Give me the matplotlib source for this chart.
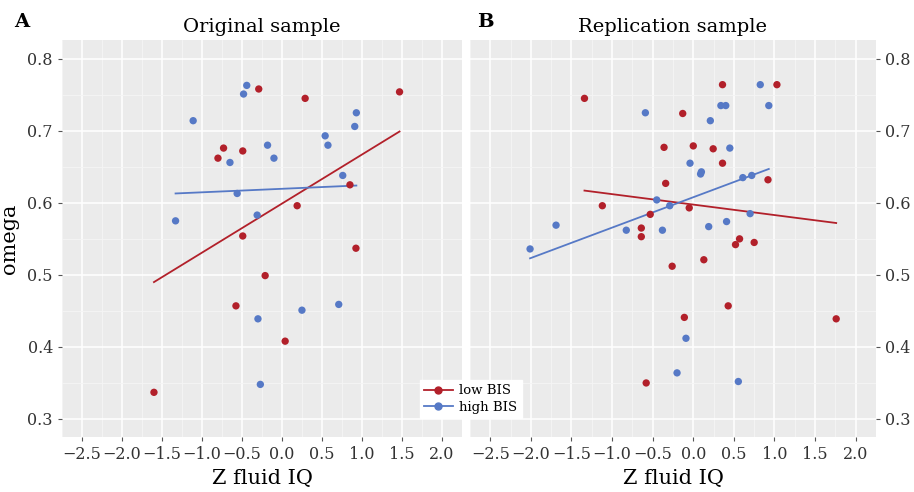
import numpy as np
import matplotlib.pyplot as plt

# Original sample
orig_low_x = [-0.29, 0.29, 1.47, -0.73, -0.80, -0.49, 0.85, 0.19, -0.49, 0.925, -0.21, -0.575, 0.04, -1.60]
orig_low_y = [0.758, 0.745, 0.754, 0.676, 0.662, 0.672, 0.625, 0.596, 0.554, 0.537, 0.499, 0.457, 0.408, 0.337]
orig_high_x = [-0.44, -0.48, -1.11, -0.65, -0.18, -0.10, -0.56, -0.31, -1.33, 0.54, 0.575, 0.93, 0.91, 0.76,
               -0.30, 0.25, 0.71, -0.27]
orig_high_y = [0.763, 0.751, 0.714, 0.656, 0.680, 0.662, 0.613, 0.583, 0.575, 0.693, 0.680, 0.725, 0.706, 0.638,
               0.439, 0.451, 0.459, 0.348]

# Replication sample
rep_low_x = [0.36, 1.03, -1.34, -0.13, -0.36, 0.0, 0.245, 0.36, -0.34, 0.92, -1.12, -0.05, -0.53, -0.64,
             -0.64, 0.57, 0.52, 0.75, -0.26, 0.13, 0.43, -0.11, 1.76, -0.58]
rep_low_y = [0.764, 0.764, 0.745, 0.724, 0.677, 0.679, 0.675, 0.655, 0.627, 0.632, 0.596, 0.593, 0.584, 0.565,
             0.553, 0.550, 0.542, 0.545, 0.512, 0.521, 0.457, 0.441, 0.439, 0.350]
rep_high_x = [0.825, 0.34, 0.40, 0.93, -0.59, 0.21, 0.45, -0.04, 0.10, 0.09, 0.61, 0.72, -0.45, -0.29,
              0.70, -1.69, 0.41, -2.01, -0.825, -0.38, 0.19, -0.09, -0.20, 0.555]
rep_high_y = [0.764, 0.735, 0.735, 0.735, 0.725, 0.714, 0.676, 0.655, 0.643, 0.640, 0.635, 0.638, 0.604, 0.596,
              0.585, 0.569, 0.574, 0.536, 0.562, 0.562, 0.567, 0.412, 0.364, 0.352]

# fitted lines (x start, x end, y start, y end)
orig_low_fit = ([-1.60, 1.47], [0.490, 0.699])
orig_high_fit = ([-1.33, 0.93], [0.613, 0.624])
rep_low_fit = ([-1.34, 1.76], [0.617, 0.572])
rep_high_fit = ([-2.01, 0.93], [0.523, 0.647])

xticks = np.arange(-2.5, 2.01, 0.5)
yticks = [0.3, 0.4, 0.5, 0.6, 0.7, 0.8]

RED = '#B2202A'
BLUE = '#5679C6'
FONT = 'DejaVu Serif'

fig = plt.figure(figsize=(9.14, 4.92), dpi=100)
ax1 = fig.add_axes([0.0678, 0.1118, 0.4376, 0.8069])
ax2 = fig.add_axes([0.5142, 0.1118, 0.4442, 0.8069])

panels = [
    (ax1, orig_low_x, orig_low_y, orig_high_x, orig_high_y, orig_low_fit, orig_high_fit, 'Original sample'),
    (ax2, rep_low_x, rep_low_y, rep_high_x, rep_high_y, rep_low_fit, rep_high_fit, 'Replication sample'),
]

for ax, lx, ly, hx, hy, lfit, hfit, title in panels:
    ax.set_facecolor('#EBEBEB')
    ax.set_xticks(xticks)
    ax.set_yticks(yticks)
    ax.set_xticks(np.arange(-2.75, 2.26, 0.5), minor=True)
    ax.set_yticks(np.arange(0.25, 0.85, 0.1), minor=True)
    ax.set_xlim(-2.75, 2.25)
    ax.set_ylim(0.275, 0.826)
    ax.grid(True, which='major', color='white', linewidth=1.1)
    ax.grid(True, which='minor', color='#F5F5F5', linewidth=0.6)
    ax.set_axisbelow(True)
    for s in ax.spines.values():
        s.set_visible(False)
    ax.tick_params(which='major', length=3, color='#555555', labelsize=11.5, labelcolor='#333333')
    ax.tick_params(which='minor', length=0)
    ax.set_xticklabels([f'{t:.1f}'.replace('-', '\u2212') for t in xticks], family=FONT)
    ax.set_yticklabels([f'{t:.1f}' for t in yticks], family=FONT)

    ax.plot(lfit[0], lfit[1], color=RED, linewidth=1.3, zorder=2)
    ax.plot(hfit[0], hfit[1], color=BLUE, linewidth=1.3, zorder=2)
    ax.scatter(lx, ly, s=28, color=RED, edgecolors='none', zorder=3)
    ax.scatter(hx, hy, s=28, color=BLUE, edgecolors='none', zorder=3)

    ax.set_xlabel('Z fluid IQ', family=FONT, fontsize=15, labelpad=4)
    ax.set_title(title, family=FONT, fontsize=14, pad=6)

ax1.set_ylabel('omega', family=FONT, fontsize=15, labelpad=6)
ax2.yaxis.tick_right()

fig.text(0.015, 0.955, 'A', family=FONT, fontsize=14, fontweight='bold', va='center')
fig.text(0.522, 0.955, 'B', family=FONT, fontsize=14, fontweight='bold', va='center')

h1, = ax1.plot([], [], color=RED, marker='o', markersize=5, linewidth=1.3, label='low BIS')
h2, = ax1.plot([], [], color=BLUE, marker='o', markersize=5, linewidth=1.3, label='high BIS')
fig.legend(handles=[h1, h2], loc='center', bbox_to_anchor=(0.515, 0.189), frameon=True,
           fancybox=False, framealpha=1, edgecolor='white', prop={'family': FONT, 'size': 9.5},
           handlelength=2.2, borderpad=0.3, labelspacing=0.25, handletextpad=0.5)

plt.savefig('out.png', dpi=100)
